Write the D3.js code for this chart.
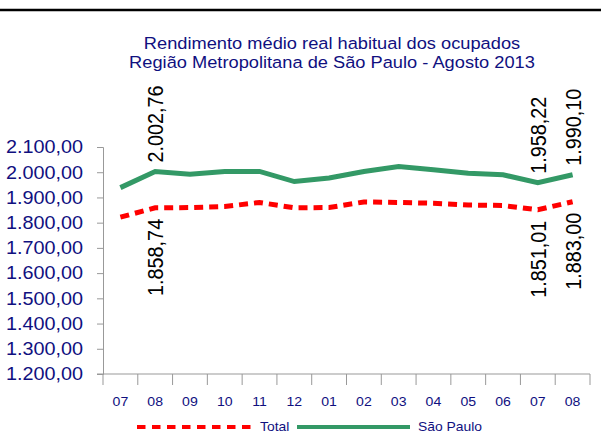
<!DOCTYPE html>
<html>
<head>
<meta charset="utf-8">
<script src="https://cdn.jsdelivr.net/npm/d3@7"></script>
<style>
  body { margin: 0; background: #fff; }
  svg { display: block; }
</style>
</head>
<body>
<div id="chart"></div>
<script>
// dados
const meses = ["07", "08", "09", "10", "11", "12", "01", "02", "03", "04", "05", "06", "07", "08"];
const total = [1822, 1858.74, 1860, 1864, 1880, 1859, 1860, 1882, 1880, 1877, 1870, 1868, 1851.01, 1883.00];
const saoPaulo = [1939, 2002.76, 1992, 2003, 2003, 1963, 1977, 2003, 2023, 2010, 1996, 1990, 1958.22, 1990.10];
const yTicks = [1200, 1300, 1400, 1500, 1600, 1700, 1800, 1900, 2000, 2100];
const rotulosTotal = [1, 12, 13];      // índices com rótulo
const rotulosSP = [1, 12, 13];
const titulo = ["Rendimento médio real habitual dos ocupados", "Região Metropolitana de São Paulo - Agosto 2013"];

const width = 601, height = 446;
const navy = "#10107f";
const vermelho = "#ff0000";
const verde = "#339966";
const sx = 1.12; // o original está esticado na horizontal

const fmt = v => {
    const s = v.toFixed(2).split(".");
    return s[0].replace(/\B(?=(\d{3})+(?!\d))/g, ".") + "," + s[1];
};

const svg = d3.select("#chart").append("svg")
    .attr("width", width)
    .attr("height", height)
    .attr("font-family", "'Liberation Sans', Arial, sans-serif");

// linha preta no topo
svg.append("line")
    .attr("x1", 0).attr("x2", width)
    .attr("y1", 10).attr("y2", 10)
    .attr("stroke", "#000").attr("stroke-width", 2.5);

const x = d3.scaleBand().domain(d3.range(meses.length)).range([103, 590]);
const y = d3.scaleLinear().domain([1200, 2100]).range([374, 147]);

// título
svg.selectAll(".titulo")
    .data(titulo)
    .join("text")
    .attr("transform", (d, i) => `translate(332,${49 + i * 19}) scale(${sx},1)`)
    .attr("text-anchor", "middle")
    .attr("font-size", 16.3)
    .attr("fill", navy)
    .text(d => d);

// eixo y
const yAxis = svg.append("g").attr("transform", "translate(103,0)")
    .call(d3.axisLeft(y).tickValues(yTicks).tickSize(6).tickFormat(""));
yAxis.select(".domain").attr("stroke", "#999");
yAxis.selectAll(".tick line").attr("stroke", "#999");

svg.selectAll(".ylab")
    .data(yTicks)
    .join("text")
    .attr("transform", d => `translate(83,${y(d)}) scale(${sx},1)`)
    .attr("dy", "0.36em")
    .attr("text-anchor", "end")
    .attr("font-size", 17.7)
    .attr("fill", navy)
    .text(d => fmt(d));

// eixo x
const xAxis = svg.append("g").attr("transform", "translate(0,374)");
xAxis.append("line")
    .attr("x1", 97).attr("x2", 590)
    .attr("stroke", "#999");
xAxis.selectAll(".xt")
    .data(d3.range(meses.length + 1))
    .join("line")
    .attr("x1", i => 103 + i * x.step())
    .attr("x2", i => 103 + i * x.step())
    .attr("y1", 0).attr("y2", 11)
    .attr("stroke", "#999");

svg.selectAll(".xlab")
    .data(meses)
    .join("text")
    .attr("transform", (d, i) => `translate(${x(i) + x.bandwidth() / 2},406) scale(${sx},1)`)
    .attr("text-anchor", "middle")
    .attr("font-size", 12.6)
    .attr("fill", navy)
    .text(d => d);

const cx = i => x(i) + x.bandwidth() / 2;
const line = d3.line().x((d, i) => cx(i)).y(d => y(d));

svg.append("path")
    .datum(saoPaulo)
    .attr("d", line)
    .attr("fill", "none")
    .attr("stroke", verde)
    .attr("stroke-width", 5);

svg.append("path")
    .datum(total)
    .attr("d", line)
    .attr("fill", "none")
    .attr("stroke", vermelho)
    .attr("stroke-width", 5)
    .attr("stroke-dasharray", "9,6");

// rótulos de dados
svg.selectAll(".labSP")
    .data(rotulosSP)
    .join("text")
    .attr("transform", i => `translate(${cx(i)},${y(saoPaulo[i]) - 9}) scale(${sx},1) rotate(-90)`)
    .attr("dy", "0.36em")
    .attr("text-anchor", "start")
    .attr("font-size", 19.8)
    .attr("fill", "#000")
    .text(i => fmt(saoPaulo[i]));

svg.selectAll(".labT")
    .data(rotulosTotal)
    .join("text")
    .attr("transform", i => `translate(${cx(i)},${y(total[i]) + 11}) scale(${sx},1) rotate(-90)`)
    .attr("dy", "0.36em")
    .attr("text-anchor", "end")
    .attr("font-size", 19.8)
    .attr("fill", "#000")
    .text(i => fmt(total[i]));

// legenda
const leg = svg.append("g").attr("transform", "translate(0,427)");
leg.append("line")
    .attr("x1", 137).attr("x2", 252)
    .attr("stroke", vermelho).attr("stroke-width", 4)
    .attr("stroke-dasharray", "8.5,6.5");
leg.append("text")
    .attr("transform", `translate(260,0) scale(${sx},1)`)
    .attr("dy", "0.36em")
    .attr("font-size", 12.4)
    .attr("fill", navy)
    .text("Total");
leg.append("line")
    .attr("x1", 297).attr("x2", 410)
    .attr("stroke", verde).attr("stroke-width", 4);
leg.append("text")
    .attr("transform", `translate(418,0) scale(${sx},1)`)
    .attr("dy", "0.36em")
    .attr("font-size", 12.4)
    .attr("fill", navy)
    .text("São Paulo");
</script>
</body>
</html>
